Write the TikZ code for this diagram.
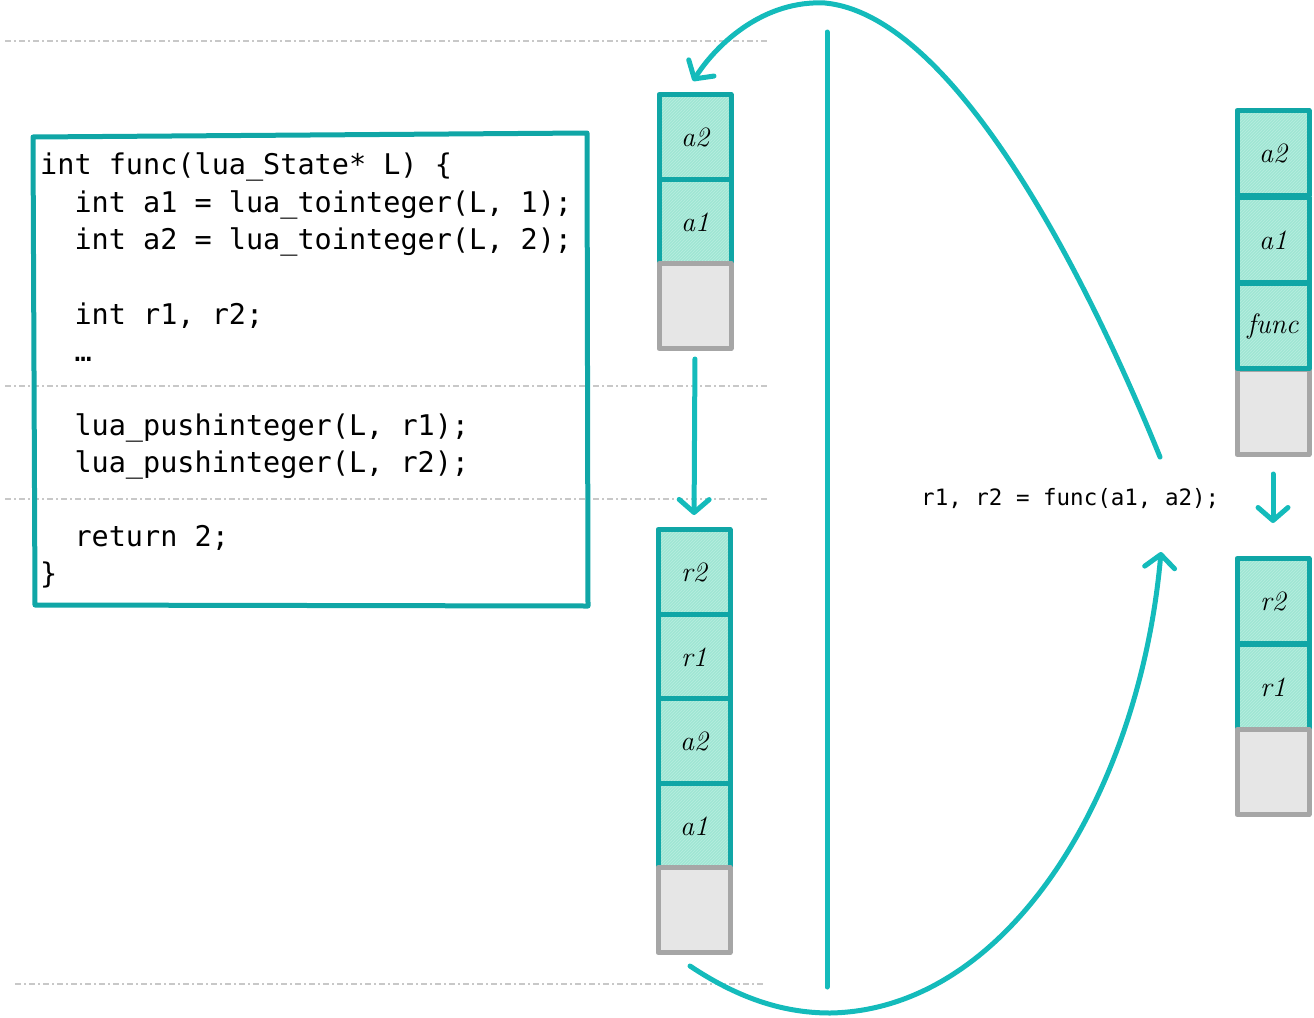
\documentclass[tikz,border=0pt]{standalone}
\usepackage{fontspec}
\setmonofont{DejaVu Sans Mono}
\usetikzlibrary{arrows.meta,patterns}
\definecolor{boxteal}{HTML}{10A6A6}
\definecolor{curveteal}{HTML}{14BBBB}
\definecolor{cellfill}{HTML}{9FE6D4}
\definecolor{cellhatch}{HTML}{B8EEE0}
\definecolor{grayline}{HTML}{A6A6A6}
\definecolor{grayfill}{HTML}{E6E6E6}
\definecolor{dashgray}{HTML}{C8C8C8}
\newcommand{\usc}{\char"5F\relax}
\tikzset{
  sep/.style={draw=dashgray, line width=1.8pt, dash pattern=on 6pt off 3pt on 2pt off 3pt},
  cellT/.style={draw=boxteal, line width=5pt, line cap=round, line join=round,
    preaction={fill=cellfill}, pattern=north east lines, pattern color=cellhatch,
    minimum width=72pt, minimum height=85pt, inner sep=0pt,
    font=\fontsize{28}{30}\selectfont\itshape},
  cellG/.style={draw=grayline, line width=5pt, line cap=round, line join=round,
    fill=grayfill, minimum width=72pt, minimum height=85pt, inner sep=0pt},
  codeline/.style={anchor=base west, inner sep=0pt, font=\fontsize{28.5}{32}\selectfont\ttfamily},
  flow/.style={draw=curveteal, line width=5pt, line cap=round,
    -{Straight Barb[length=13pt,width=30pt,line cap=round,line join=round]}},
}
\begin{document}
\begin{tikzpicture}[x=1pt,y=-1pt]
\useasboundingbox (0,0) rectangle (1314,1017);
% separators
\draw[sep] (5,41) -- (768,41);
\draw[sep] (5,386) -- (768,386);
\draw[sep] (5,499) -- (768,499);
\draw[sep] (15,984) -- (765,984);
% code box
\draw[boxteal, line width=5pt, line cap=round, line join=round]
  (33,137) -- (587,133) -- (588,606) -- (35,605) -- cycle;
\node[codeline] (c1) at (40,174) {int func(lua\usc State* L) \{};
\node[codeline] (c2) at (40,212) {\phantom{xx}int a1 = lua\usc tointeger(L, 1);};
\node[codeline] (c3) at (40,249) {\phantom{xx}int a2 = lua\usc tointeger(L, 2);};
\node[codeline] (c4) at (40,324) {\phantom{xx}int r1, r2;};
\node[codeline] (c5) at (40,361) {\phantom{xx}…};
\node[codeline] (c6) at (40,435) {\phantom{xx}lua\usc pushinteger(L, r1);};
\node[codeline] (c7) at (40,472) {\phantom{xx}lua\usc pushinteger(L, r2);};
\node[codeline] (c8) at (40,546) {\phantom{xx}return 2;};
\node[codeline] (c9) at (40,583) {\}};
% left stack 1
\node[cellT] (La2) at (695,137) {a2};
\node[cellT] (La1) at (695,222) {a1};
\node[cellG] (Lg) at (695,306) {};
% left stack 2
\node[cellT] (Mr2) at (694,572) {r2};
\node[cellT] (Mr1) at (694,657) {r1};
\node[cellT] (Ma2) at (694,741) {a2};
\node[cellT] (Ma1) at (694,826) {a1};
\node[cellG] (Mg) at (694,910) {};
% right stack 1
\node[cellG] (Rg) at (1273,412) {};
\node[cellT] (Rfunc) at (1273,326) {func};
\node[cellT] (Ra1) at (1273,240) {a1};
\node[cellT] (Ra2) at (1273,153) {a2};
% right stack 2
\node[cellT] (Sr2) at (1273,601) {r2};
\node[cellT] (Sr1) at (1273,687) {r1};
\node[cellG] (Sg) at (1273,772) {};
% call text
\node[inner sep=0pt, anchor=base west, font=\fontsize{22.5}{24}\selectfont\ttfamily] (call) at (921,505) {r1, r2 = func(a1, a2);};
% divider
\coordinate (divT) at (827,32);
\coordinate (divB) at (827,987);
\draw[curveteal, line width=5pt, line cap=round] (divT) -- (divB);
% arrows
\draw[flow, shorten <=8pt, shorten >=12pt] (Lg.south) -- (Mr2.north);
\draw[flow, shorten <=17pt, shorten >=33pt] (Rg.south) -- (Sr2.north);
\coordinate (topStart) at (1160,457);
\coordinate (topPeak) at (825,3);
\coordinate (topEnd) at (693,81);
\draw[flow] (topStart) .. controls (1080,260) and (950,15) .. (topPeak)
  .. controls (765,0) and (718,42) .. (topEnd);
\coordinate (botStart) at (690,966);
\coordinate (botLow) at (830,1013);
\coordinate (botEnd) at (1161,552);
\draw[flow] (botStart) .. controls (735,996) and (780,1013) .. (botLow)
  .. controls (1010,1010) and (1140,790) .. (botEnd);
\end{tikzpicture}
\end{document}
